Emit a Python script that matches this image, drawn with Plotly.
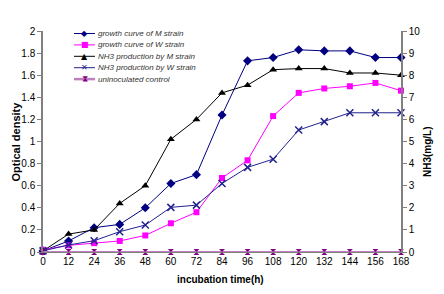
import plotly.graph_objects as go

hours = [0, 12, 24, 36, 48, 60, 72, 84, 96, 108, 120, 132, 144, 156, 168]
growth_M = [0.01, 0.10, 0.22, 0.25, 0.40, 0.62, 0.70, 1.24, 1.73, 1.76, 1.83, 1.82, 1.82, 1.76, 1.76]
growth_W = [0.02, 0.06, 0.08, 0.10, 0.15, 0.26, 0.36, 0.67, 0.83, 1.23, 1.44, 1.48, 1.50, 1.53, 1.46]
nh3_M = [0.05, 0.81, 1.0, 2.2, 3.0, 5.1, 6.0, 7.2, 7.55, 8.25, 8.3, 8.3, 8.1, 8.1, 8.0]
nh3_W = [0.05, 0.32, 0.51, 0.92, 1.22, 2.02, 2.12, 3.1, 3.83, 4.2, 5.52, 5.9, 6.3, 6.3, 6.3]
control = [0] * 15

series_names = ["growth curve of M strain", "growth curve of W strain",
                "NH3 production by M strain", "NH3 production by W strain",
                "uninoculated control"]

FONT = "Liberation Sans, Arial, sans-serif"
OFF = 8  # default page body margin
W, H = 444 - 2 * OFF, 294 - 2 * OFF
# target plot area in window pixels: x 43..401, y 31..252
L, R, T, B = 43 - OFF, W + OFF - 401, 31 - OFF, H + OFF - 252

styles = [
    dict(color="#000080", symbol="diamond", size=7, width=1, glyph="◆", mcolor="#000080", gsize=8),
    dict(color="#ff00ff", symbol="square", size=6, width=1, glyph="■", mcolor="#ff00ff", gsize=8),
    dict(color="#000000", symbol="triangle-up", size=7, width=1, glyph="▲", mcolor="#000000", gsize=8),
    dict(color="#22228f", symbol="x-thin-open", size=7, width=1, glyph="✕", mcolor="#22228f", gsize=8),
    dict(color="#bf7fbf", symbol="hourglass", size=6, width=2, glyph="⧗", mcolor="#800080", gsize=9),
]
values = [growth_M, growth_W, nh3_M, nh3_W, control]
axes = ["y", "y", "y2", "y2", "y2"]

fig = go.Figure()
for name, vals, ax, st in zip(series_names, values, axes, styles):
    marker = dict(symbol=st["symbol"], size=st["size"], color=st["mcolor"])
    if st["symbol"].endswith("open"):
        marker["line"] = dict(width=1.5, color=st["mcolor"])
    fig.add_trace(go.Scatter(x=hours, y=vals, name=name, yaxis=ax, mode="lines+markers",
                             line=dict(color=st["color"], width=st["width"]),
                             marker=marker, cliponaxis=False, showlegend=False))

pw, ph = W - L - R, H - T - B
def px2x(px):
    return (px - OFF - L) / pw
def py2y(py):
    return 1 - (py - OFF - T) / ph

shapes = []
annotations = []
leg_y0, leg_dy = 33.5, 11.4
for i, (name, st) in enumerate(zip(series_names, styles)):
    yy = py2y(leg_y0 + i * leg_dy)
    shapes.append(dict(type="line", xref="paper", yref="paper", x0=px2x(74), x1=px2x(95),
                       y0=yy, y1=yy, line=dict(color=st["color"], width=st["width"] + (0.5 if i == 4 else 0))))
    annotations.append(dict(xref="paper", yref="paper", x=px2x(84.5), y=yy, text=st["glyph"],
                            showarrow=False, xanchor="center", yanchor="middle",
                            font=dict(family="DejaVu Sans", size=st["gsize"], color=st["mcolor"])))
    annotations.append(dict(xref="paper", yref="paper", x=px2x(96), y=yy, text="<i>" + name + "</i>",
                            showarrow=False, xanchor="left", yanchor="middle",
                            font=dict(family=FONT, size=8, color="#333333")))

annotations.append(dict(xref="paper", yref="paper", x=px2x(15), y=py2y(141.5),
                        text="<b>Optical density</b>", textangle=-90, showarrow=False,
                        xanchor="center", yanchor="middle", font=dict(family=FONT, size=11)))
annotations.append(dict(xref="paper", yref="paper", x=px2x(427), y=py2y(152),
                        text="<b>NH3(mg/L)</b>", textangle=-90, showarrow=False,
                        xanchor="center", yanchor="middle", font=dict(family=FONT, size=10)))
annotations.append(dict(xref="paper", yref="paper", x=px2x(220), y=py2y(279),
                        text="<b>incubation time(h)</b>", showarrow=False,
                        xanchor="center", yanchor="middle", font=dict(family=FONT, size=10)))

fig.update_layout(
    width=W, height=H,
    margin=dict(l=L, r=R, t=T, b=B, autoexpand=False),
    paper_bgcolor="white", plot_bgcolor="white",
    font=dict(family=FONT, size=10, color="#000000"),
    showlegend=False,
    shapes=shapes, annotations=annotations,
    xaxis=dict(range=[0, 168], tickvals=hours, ticks="", showline=True, linecolor="#808080",
               linewidth=1, showgrid=False, zeroline=False, automargin=False),
    yaxis=dict(range=[0, 2], dtick=0.2, ticks="outside", ticklen=4, tickcolor="#808080",
               showline=True, linecolor="#808080", linewidth=1.5, showgrid=False, zeroline=False,
               tickformat="~g", automargin=False),
    yaxis2=dict(range=[0, 10], dtick=1, overlaying="y", side="right", ticks="outside", ticklen=4,
                tickcolor="#808080", showline=True, linecolor="#808080", linewidth=1.5,
                showgrid=False, zeroline=False, automargin=False),
)

fig.write_html("out.html")
